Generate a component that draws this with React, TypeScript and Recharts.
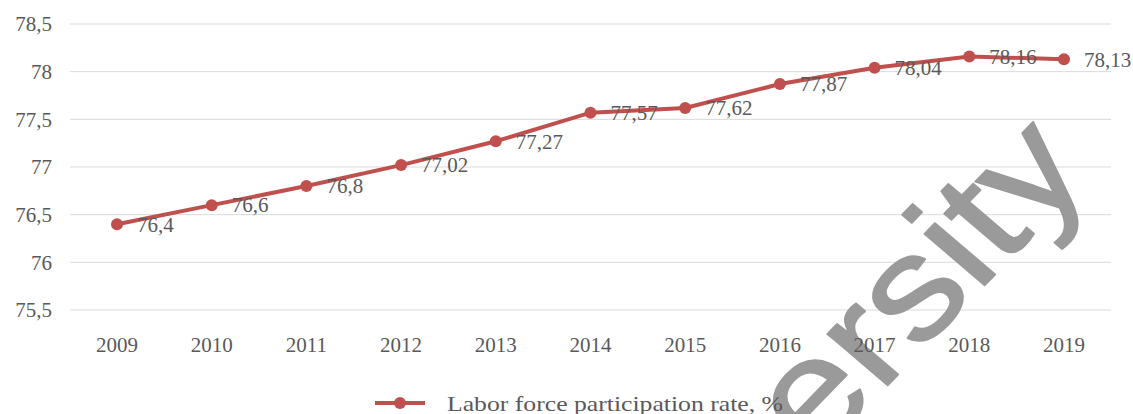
import React from 'react';
import { LineChart, Line, XAxis, YAxis, CartesianGrid, LabelList, Customized } from 'recharts';

const years = ['2009', '2010', '2011', '2012', '2013', '2014', '2015', '2016', '2017', '2018', '2019'];
const rates = [76.4, 76.6, 76.8, 77.02, 77.27, 77.57, 77.62, 77.87, 78.04, 78.16, 78.13];
const yTicks = [75.5, 76, 76.5, 77, 77.5, 78, 78.5];
const seriesName = 'Labor force participation rate, %';
const watermarkText = 'ersity';

const data = years.map((y, i) => ({ year: y, rate: rates[i] }));
const fmt = (v: number) => String(v).replace('.', ',');

const FONT = '"Liberation Serif", "Times New Roman", serif';
const TEXT = '#595959';
const RED = '#c0504d';

const PointLabel = (props: any) => {
  const { x, y, value } = props;
  return (
    <text x={x + 20} y={y} dy="0.35em" fill={TEXT} fontSize={21} fontFamily={FONT} textAnchor="start">
      {fmt(value)}
    </text>
  );
};

const LegendBox = () => (
  <g>
    <line x1={375} y1={403} x2={425} y2={403} stroke={RED} strokeWidth={4} />
    <circle cx={400} cy={403} r={6} fill={RED} />
    <text
      x={447}
      y={410.5}
      fill={TEXT}
      fontSize={21.5}
      fontFamily={FONT}
      textLength={336}
      lengthAdjust="spacingAndGlyphs"
    >
      {seriesName}
    </text>
  </g>
);

const Watermark = () => (
  <text
    x={0}
    y={0}
    transform="matrix(0.729 -0.752 0.7125 0.609 814.9 460.5)"
    fontSize={160}
    fontFamily='"Liberation Sans", Arial, sans-serif'
    fill="#9a9a9a"
    stroke="#9a9a9a"
    strokeWidth={2}
    strokeLinejoin="round"
  >
    {watermarkText}
  </text>
);

export default function App() {
  return (
    <div style={{ position: 'absolute', left: 0, top: 0, background: '#fff' }}>
      <LineChart width={1133} height={414} data={data} margin={{ top: 24, right: 22, left: 0, bottom: 44 }}>
        <Customized component={Watermark} />
        <CartesianGrid horizontal vertical={false} stroke="#d9d9d9" strokeWidth={1} />
        <XAxis
          dataKey="year"
          height={60}
          axisLine={false}
          tickLine={false}
          tickSize={6}
          tickMargin={21}
          padding={{ left: 47, right: 47 }}
          tick={{ fill: TEXT, fontSize: 21, fontFamily: FONT }}
          interval={0}
        />
        <YAxis
          domain={[75.5, 78.5]}
          ticks={yTicks}
          tickFormatter={fmt}
          width={70}
          axisLine={false}
          tickLine={false}
          tickSize={6}
          tickMargin={12}
          tick={{ fill: TEXT, fontSize: 21, fontFamily: FONT }}
          interval={0}
        />
        <Line
          type="linear"
          dataKey="rate"
          name={seriesName}
          stroke={RED}
          strokeWidth={4}
          dot={{ r: 6, fill: RED, stroke: RED, strokeWidth: 0 }}
          isAnimationActive={false}
        >
          <LabelList dataKey="rate" content={PointLabel} />
        </Line>
        <Customized component={LegendBox} />
      </LineChart>
    </div>
  );
}
